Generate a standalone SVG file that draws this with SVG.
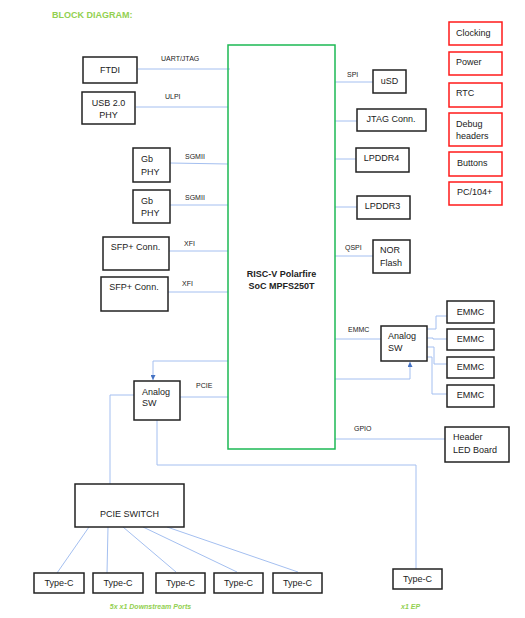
<svg xmlns="http://www.w3.org/2000/svg" width="525" height="618" viewBox="0 0 525 618">
<style>
text{font-family:"Liberation Sans",Arial,sans-serif;fill:#222}
.box{fill:#fff;stroke:#222;stroke-width:1.5}
.red{fill:#fff;stroke:#ff1a1a;stroke-width:1.5}
.t{font-size:9px}
.c{text-anchor:middle}
.lb{font-size:7px}
.ln{fill:none;stroke:#a4bff0;stroke-width:1}
.g{fill:#92d050;font-weight:bold}
</style>
<defs>
<marker id="ah" viewBox="0 0 10 10" refX="10" refY="5" markerWidth="5" markerHeight="5" orient="auto">
<path d="M0,0 L10,5 L0,10 z" fill="#4472c4"/>
</marker>
</defs>
<text class="g" x="52" y="18" font-size="9px">BLOCK DIAGRAM:</text>
<g id="connectors">
<line class="ln" x1="138" y1="69" x2="230" y2="69"/>
<line class="ln" x1="136" y1="107" x2="228" y2="107"/>
<line class="ln" x1="170" y1="163" x2="228" y2="164"/>
<line class="ln" x1="170" y1="205" x2="228" y2="205"/>
<line class="ln" x1="169" y1="251" x2="228" y2="251"/>
<line class="ln" x1="168" y1="292" x2="228" y2="292"/>
<line class="ln" x1="335" y1="82" x2="373" y2="82"/>
<line class="ln" x1="335" y1="121" x2="357" y2="121"/>
<line class="ln" x1="335" y1="159" x2="356" y2="159"/>
<line class="ln" x1="335" y1="207" x2="357" y2="207"/>
<line class="ln" x1="335" y1="256" x2="373" y2="256"/>
<line class="ln" x1="335" y1="339" x2="381" y2="339"/>
<polyline class="ln" points="335,379 410,379 410,362" marker-end="url(#ah)"/>
<polyline class="ln" points="427,329 436,329 436,316 447,316"/>
<polyline class="ln" points="427,338 433,338 433,339 447,339"/>
<polyline class="ln" points="427,347 434,347 434,364 447,364"/>
<polyline class="ln" points="427,357 432,357 432,394 447,394"/>
<line class="ln" x1="335" y1="439" x2="445" y2="439"/>
<polyline class="ln" points="228,361 153,361 153,380" marker-end="url(#ah)"/>
<line class="ln" x1="180" y1="397" x2="228" y2="397"/>
<polyline class="ln" points="134,395 110,395 110,484"/>
<polyline class="ln" points="157,420 157,465 416,465 416,569"/>
<line class="ln" x1="89" y1="527" x2="57" y2="573"/>
<line class="ln" x1="108" y1="527" x2="107" y2="573"/>
<line class="ln" x1="123" y1="527" x2="176" y2="572"/>
<line class="ln" x1="143" y1="527" x2="237" y2="572"/>
<line class="ln" x1="167" y1="527" x2="298" y2="572"/>
</g>
<g id="labels">
<text class="lb" x="161" y="61">UART/JTAG</text>
<text class="lb" x="165" y="98.5">ULPI</text>
<text class="lb" x="185" y="158.5">SGMII</text>
<text class="lb" x="185" y="199.5">SGMII</text>
<text class="lb" x="184" y="245.5">XFI</text>
<text class="lb" x="182" y="285.5">XFI</text>
<text class="lb" x="347" y="76.5">SPI</text>
<text class="lb" x="345" y="249.5">QSPI</text>
<text class="lb" x="348" y="331.5">EMMC</text>
<text class="lb" x="354" y="430.5">GPIO</text>
<text class="lb" x="196" y="387.5">PCIE</text>
</g>
<g id="soc">
<rect x="228" y="45" width="107" height="404" fill="#fff" fill-opacity="0" stroke="#1db954" stroke-width="1.5"/>
<text class="t c" x="281.5" y="276.5" font-weight="bold">RISC-V Polarfire</text>
<text class="t c" x="281.5" y="288.5" font-weight="bold">SoC MPFS250T</text>
</g>
<g id="ftdi"><rect class="box" x="83" y="57" width="54" height="26"/><text class="t c" x="110" y="72.5">FTDI</text></g>
<g id="usbphy"><rect class="box" x="82" y="92" width="53" height="32"/><text class="t c" x="108.5" y="105.5">USB 2.0</text><text class="t c" x="108.5" y="117.5">PHY</text></g>
<g id="gbphy1"><rect class="box" x="133" y="148" width="37" height="34"/><text class="t" x="141" y="162">Gb</text><text class="t" x="141" y="175">PHY</text></g>
<g id="gbphy2"><rect class="box" x="133" y="190" width="37" height="33"/><text class="t" x="141" y="204">Gb</text><text class="t" x="141" y="216">PHY</text></g>
<g id="sfp1"><rect class="box" x="103" y="237" width="66" height="33"/><text class="t c" x="135.5" y="250">SFP+ Conn.</text></g>
<g id="sfp2"><rect class="box" x="101" y="277" width="67" height="34"/><text class="t c" x="134" y="290">SFP+ Conn.</text></g>
<g id="usd"><rect class="box" x="373" y="70" width="33" height="23"/><text class="t c" x="389.5" y="84">uSD</text></g>
<g id="jtag"><rect class="box" x="357" y="109" width="69" height="22"/><text class="t c" x="391" y="122">JTAG Conn.</text></g>
<g id="lpddr4"><rect class="box" x="356" y="148" width="53" height="24"/><text class="t c" x="381.5" y="161">LPDDR4</text></g>
<g id="lpddr3"><rect class="box" x="357" y="196" width="53" height="23"/><text class="t c" x="382.5" y="209">LPDDR3</text></g>
<g id="nor"><rect class="box" x="373" y="240" width="37" height="33"/><text class="t" x="380" y="253">NOR</text><text class="t" x="380" y="266">Flash</text></g>
<g id="analogsw-r"><rect class="box" x="381" y="326" width="46" height="35"/><text class="t" x="388" y="339">Analog</text><text class="t" x="388" y="351">SW</text></g>
<g id="emmc1"><rect class="box" x="447" y="301" width="47" height="22"/><text class="t c" x="470.5" y="315">EMMC</text></g>
<g id="emmc2"><rect class="box" x="447" y="329" width="47" height="21"/><text class="t c" x="470.5" y="342">EMMC</text></g>
<g id="emmc3"><rect class="box" x="447" y="357" width="47" height="21"/><text class="t c" x="470.5" y="370">EMMC</text></g>
<g id="emmc4"><rect class="box" x="447" y="385" width="47" height="22"/><text class="t c" x="470.5" y="398">EMMC</text></g>
<g id="header"><rect class="box" x="445" y="427" width="64" height="35"/><text class="t" x="453" y="440">Header</text><text class="t" x="453" y="453">LED Board</text></g>
<g id="analogsw-l"><rect class="box" x="134" y="381" width="46" height="39"/><text class="t" x="142" y="395">Analog</text><text class="t" x="142" y="406">SW</text></g>
<g id="pcieswitch"><rect class="box" x="75" y="484" width="109" height="43"/><text class="t c" x="129.5" y="517">PCIE SWITCH</text></g>
<g id="typec1"><rect class="box" x="34" y="573" width="50" height="20"/><text class="t c" x="59" y="586">Type-C</text></g>
<g id="typec2"><rect class="box" x="93" y="573" width="50" height="20"/><text class="t c" x="118" y="586">Type-C</text></g>
<g id="typec3"><rect class="box" x="156" y="573" width="49" height="20"/><text class="t c" x="180.5" y="586">Type-C</text></g>
<g id="typec4"><rect class="box" x="214" y="573" width="49" height="20"/><text class="t c" x="238.5" y="586">Type-C</text></g>
<g id="typec5"><rect class="box" x="273" y="573" width="49" height="20"/><text class="t c" x="297.5" y="586">Type-C</text></g>
<g id="typec6"><rect class="box" x="393" y="569" width="49" height="20"/><text class="t c" x="417.5" y="582">Type-C</text></g>
<g id="clocking"><rect class="red" x="449" y="22" width="53" height="23"/><text class="t" x="456" y="36">Clocking</text></g>
<g id="power"><rect class="red" x="449" y="52" width="53" height="23"/><text class="t" x="456" y="65">Power</text></g>
<g id="rtc"><rect class="red" x="449" y="83" width="53" height="24"/><text class="t" x="456" y="96">RTC</text></g>
<g id="debug"><rect class="red" x="449" y="113" width="53" height="33"/><text class="t" x="456" y="127">Debug</text><text class="t" x="456" y="139">headers</text></g>
<g id="buttons"><rect class="red" x="449" y="152" width="53" height="24"/><text class="t" x="457" y="166">Buttons</text></g>
<g id="pc104"><rect class="red" x="449" y="182" width="53" height="23"/><text class="t" x="457" y="195">PC/104+</text></g>
<text class="g c" x="150.5" y="609" font-size="7px" font-style="italic">5x  x1 Downstream Ports</text>
<text class="g" x="401" y="609" font-size="7px" font-style="italic">x1  EP</text>
</svg>
